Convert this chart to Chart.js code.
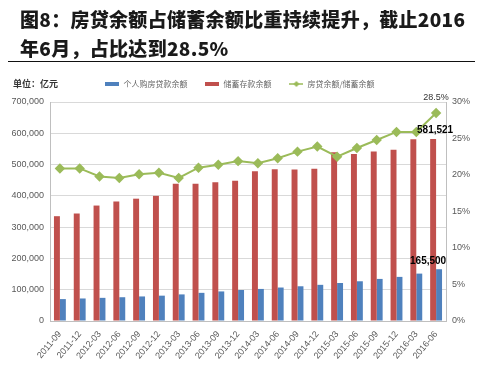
<!DOCTYPE html>
<html><head><meta charset="utf-8">
<script src="https://cdn.jsdelivr.net/npm/chart.js@4/dist/chart.umd.min.js"></script>
<style>
html,body{margin:0;padding:0;background:#fff;}
#wrap{position:relative;width:480px;height:366px;overflow:hidden;}
#title{position:absolute;left:20px;top:4px;width:460px;font-family:"Noto Sans CJK SC","Noto Sans",sans-serif;font-weight:900;font-size:19px;line-height:29px;color:#1a1a1a;letter-spacing:0.3px;}
#rule{position:absolute;left:8px;top:61px;width:467px;height:0;border-top:1.5px solid #111;}
#unit{position:absolute;left:13px;top:77px;font-family:"Noto Sans CJK SC",sans-serif;font-weight:bold;font-size:9px;color:#333;}
canvas{position:absolute;left:0;top:0;}
</style></head>
<body><div id="wrap">
<canvas id="c" width="480" height="366"></canvas>
<div id="title">图8：房贷余额占储蓄余额比重持续提升，截止2016<br>年6月，占比达到28.5%</div>
<div id="rule"></div>
<div id="unit">单位：亿元</div>
</div>
<script>
const categories = ['2011-09','2011-12','2012-03','2012-06','2012-09','2012-12','2013-03','2013-06','2013-09','2013-12','2014-03','2014-06','2014-09','2014-12','2015-03','2015-06','2015-09','2015-12','2016-03','2016-06'];
const housingLoans = [70000,72000,74000,76000,78500,81000,85000,90000,94500,99000,102500,107000,111000,115600,121500,127000,134500,141000,151500,165500];
const savingsDeposits = [335000,343600,369000,382000,391000,400000,438500,438500,443500,448000,479000,485000,484000,486500,539000,534000,542000,547000,581000,581521];
const loanToSavingsPct = [20.9,20.9,19.8,19.6,20.1,20.3,19.6,21.0,21.4,21.9,21.6,22.3,23.2,23.9,22.5,23.7,24.8,25.9,25.9,28.5];
const seriesNames = ['个人购房贷款余额','储蓄存款余额','房贷余额/储蓄余额'];
const leftTicks = [0,100000,200000,300000,400000,500000,600000,700000];
const rightTicks = [0,5,10,15,20,25,30];

const BLUE='#4f81bd', RED='#c0504d', GREEN='#9bbb59';
function mk(w,h,draw){const c=document.createElement('canvas');c.width=w;c.height=h;draw(c.getContext('2d'));return c;}
const legBlue = mk(14,4,g=>{g.fillStyle=BLUE;g.fillRect(0,0,14,4);});
const legRed = mk(14,4,g=>{g.fillStyle=RED;g.fillRect(0,0,14,4);});
const legGreen = mk(14,6,g=>{g.strokeStyle=GREEN;g.lineWidth=1.5;g.beginPath();g.moveTo(0,3);g.lineTo(14,3);g.stroke();g.fillStyle=GREEN;g.beginPath();g.moveTo(7,0);g.lineTo(10,3);g.lineTo(7,6);g.lineTo(4,3);g.closePath();g.fill();});

const fmt = v => v.toLocaleString('en-US');
const tickFont = {family:'"Liberation Sans","DejaVu Sans",sans-serif', size:9};

const legendSpace = {
  id:'legendSpace',
  beforeLayout(chart){
    const lg=chart.legend;
    if(lg && !lg._patched){
      const f=lg.fit.bind(lg);
      lg.fit=function(){f(); this.height+=4;};
      lg._patched=true;
    }
  }
};

const labelsPlugin = {
  id:'valLabels',
  afterDatasetsDraw(chart){
    const ctx=chart.ctx; ctx.save();
    const last=categories.length-1;
    const ml=chart.getDatasetMeta(0).data[last];
    const mb=chart.getDatasetMeta(1).data[last];
    const mr=chart.getDatasetMeta(2).data[last];
    const xs=chart.scales.x.getPixelForValue(last);
    ctx.textAlign='center'; ctx.textBaseline='bottom';
    ctx.font='bold 10px "Liberation Sans",sans-serif'; ctx.fillStyle='#000';
    ctx.fillText(fmt(housingLoans[last]), xs-8, mb.y-3);
    ctx.fillText(fmt(savingsDeposits[last]), xs-1, mr.y-4);
    ctx.font='9px "Liberation Sans",sans-serif'; ctx.fillStyle='#333';
    ctx.fillText(loanToSavingsPct[last].toFixed(1)+'%', xs, ml.y-11);
    ctx.restore();
  }
};

new Chart(document.getElementById('c'), {
  data:{
    labels:categories,
    datasets:[
      {type:'line',label:seriesNames[2],data:loanToSavingsPct,yAxisID:'y2',borderColor:GREEN,backgroundColor:GREEN,borderWidth:2,pointStyle:'rectRot',pointRadius:3.8,pointBackgroundColor:GREEN,pointBorderColor:GREEN,tension:0,order:0},
      {type:'bar',label:seriesNames[0],data:housingLoans,yAxisID:'y',backgroundColor:BLUE,categoryPercentage:0.6,barPercentage:1.0,order:2},
      {type:'bar',label:seriesNames[1],data:savingsDeposits,yAxisID:'y',backgroundColor:RED,categoryPercentage:0.6,barPercentage:1.0,order:1}
    ]
  },
  options:{
    responsive:false, animation:false,
    layout:{padding:{top:62,left:0,right:0,bottom:0}},
    plugins:{
      legend:{display:true,position:'top',
        labels:{usePointStyle:true,pointStyleWidth:14,boxHeight:8,padding:18,color:'#666',font:{family:'"Noto Sans CJK SC",sans-serif',size:8},
          sort:(a,b)=>[1,2,0].indexOf(a.datasetIndex)-[1,2,0].indexOf(b.datasetIndex),
          generateLabels(chart){
            const imgs={0:legGreen,1:legBlue,2:legRed};
            return chart.data.datasets.map((d,i)=>({text:d.label,datasetIndex:i,pointStyle:imgs[i],fillStyle:d.backgroundColor,strokeStyle:d.backgroundColor,lineWidth:0,fontColor:'#666',hidden:false}));
          }}},
      tooltip:{enabled:false}
    },
    scales:{
      x:{grid:{display:false,drawTicks:true},border:{color:'#bfbfbf'},
        ticks:{minRotation:50,maxRotation:50,color:'#595959',font:tickFont,padding:0},
        afterFit(s){s.height=45;}},
      y:{position:'left',min:0,max:700000,grid:{color:'#d9d9d9',drawTicks:false},border:{color:'#bfbfbf'},
        afterBuildTicks(s){s.ticks=leftTicks.map(v=>({value:v}));},
        ticks:{color:'#595959',font:tickFont,padding:6,callback:v=>fmt(v)},
        afterFit(s){s.width=50;}},
      y2:{position:'right',min:0,max:30,grid:{display:false,drawTicks:false},border:{color:'#bfbfbf'},
        afterBuildTicks(s){s.ticks=rightTicks.map(v=>({value:v}));},
        ticks:{color:'#595959',font:tickFont,padding:6,callback:v=>v+'%'},
        afterFit(s){s.width=34;}}
    }
  },
  plugins:[legendSpace,labelsPlugin]
});
</script>
</body></html>
